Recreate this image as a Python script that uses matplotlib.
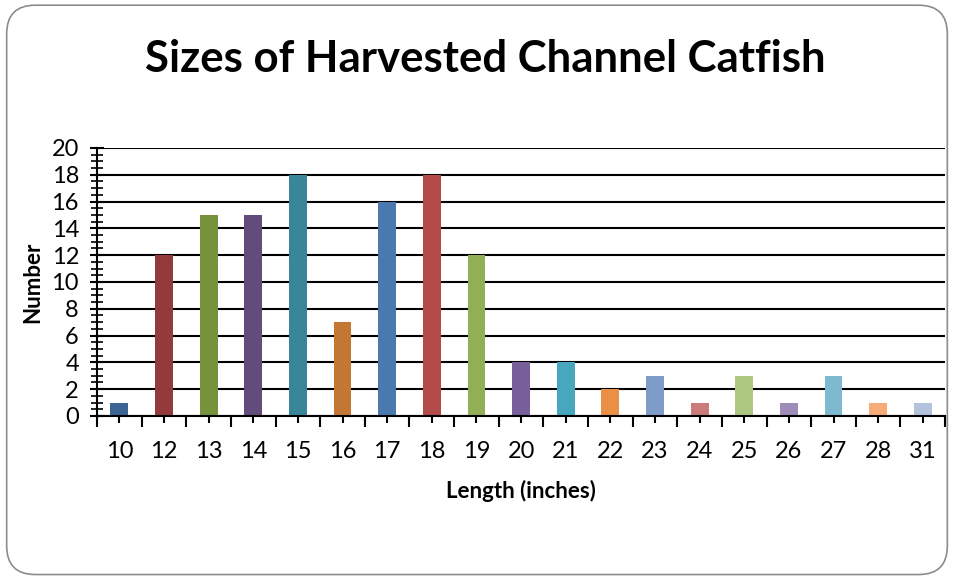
import numpy as np
import matplotlib
matplotlib.use("Agg")
import matplotlib.pyplot as plt
from matplotlib.patches import FancyBboxPatch

plt.rcParams['font.family'] = ['Lato', 'DejaVu Sans']

# harvest counts by length class
lengths = ['10', '12', '13', '14', '15', '16', '17', '18', '19', '20',
           '21', '22', '23', '24', '25', '26', '27', '28', '31']
counts = [1, 12, 15, 15, 18, 7, 16, 18, 12, 4, 4, 2, 3, 1, 3, 1, 3, 1, 1]
bar_colors = ['#3A6494', '#953A3A', '#76923C', '#624C7C', '#39869A', '#C47734',
              '#4A79B0', '#B34A47', '#92AF56', '#775F9A', '#48A6BE', '#EA9044',
              '#7F9CC8', '#CB7C7A', '#AEC780', '#9F8CB8', '#7EBACF', '#F7AB78',
              '#B3C3DE']

fig = plt.figure(figsize=(9.54, 5.78), dpi=100)

# rounded chart border
border = FancyBboxPatch((0.007, 0.006), 0.986, 0.985,
                        boxstyle="round,pad=0,rounding_size=0.03",
                        transform=fig.transFigure, facecolor='white',
                        edgecolor='#8c8c8c', linewidth=1.2, zorder=-5,
                        mutation_aspect=954/578)
fig.add_artist(border)

ax = fig.add_axes([0.1017, 0.2803, 0.889, 0.4637])
ax.patch.set_alpha(0)
ax.set_zorder(2)

x = np.arange(len(lengths))
ax.bar(x, counts, width=0.4, color=bar_colors, zorder=3)

ax.set_xlim(-0.5, len(lengths) - 0.5)
ax.set_ylim(0, 20)

# horizontal gridlines
ax.set_yticks(np.arange(0, 21, 2))
ax.set_yticks(np.arange(0, 20.01, 0.5), minor=True)
ax.grid(axis='y', which='major', color='black', linewidth=1.5, zorder=1)

# category ticks at centres, boundary ticks between categories
ax.set_xticks(x)
ax.set_xticklabels(lengths)
ax.set_xticks(np.arange(-0.5, len(lengths), 1.0), minor=True)

ax.tick_params(axis='x', which='major', direction='inout', length=10, width=1.5,
               labelsize=17, pad=13)
ax.tick_params(axis='x', which='minor', direction='out', length=8, width=1.5)
ax.tick_params(axis='y', which='major', direction='inout', length=10, width=1.5,
               labelsize=17, pad=8)
ax.tick_params(axis='y', which='minor', direction='inout', length=8, width=1.2)

for side in ['top', 'right']:
    ax.spines[side].set_visible(False)
for side in ['left', 'bottom']:
    ax.spines[side].set_linewidth(1.5)
    ax.spines[side].set_zorder(4)

ax.set_xlabel('Length (inches)', fontsize=16, fontweight='bold', labelpad=13)
ax.set_ylabel('Number', fontsize=16, fontweight='bold', labelpad=6)

fig.text(0.509, 0.898, 'Sizes of Harvested Channel Catfish', ha='center',
         va='center', fontsize=31.5, fontweight='bold')

fig.savefig('out.png', dpi=100)
